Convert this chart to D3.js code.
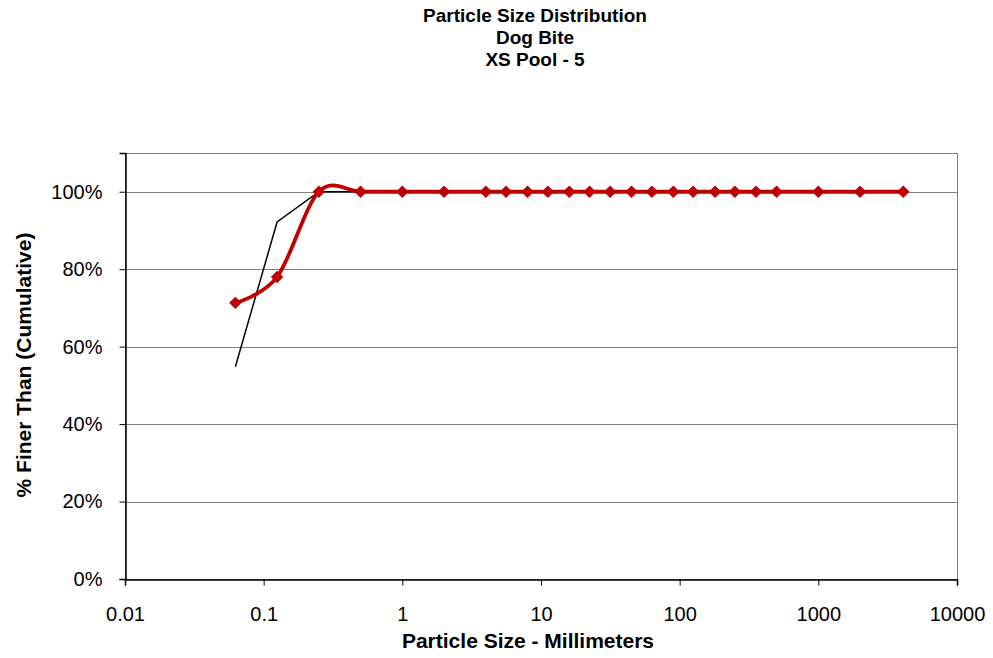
<!DOCTYPE html>
<html>
<head>
<meta charset="utf-8">
<script src="https://cdn.jsdelivr.net/npm/d3@7"></script>
<style>
  html, body { margin: 0; padding: 0; background: #fff; }
  svg { display: block; font-family: "Liberation Sans", Arial, sans-serif; }
</style>
</head>
<body>
<svg id="chart" width="993" height="658"></svg>
<script>
// Sieve sizes (mm) and cumulative percent finer
const sizes = [0.0625, 0.125, 0.25, 0.5, 1, 2, 4, 5.6, 8, 11.2, 16, 22.4, 31.5, 45, 63, 90, 125, 180, 250, 355, 500, 1000, 2000, 4096];
const finerSmooth = [0.713, 0.78, 1, 1, 1, 1, 1, 1, 1, 1, 1, 1, 1, 1, 1, 1, 1, 1, 1, 1, 1, 1, 1, 1];
const finerLine = [0.548, 0.922, 1, 1, 1, 1, 1, 1, 1, 1, 1, 1, 1, 1, 1, 1, 1, 1, 1, 1, 1, 1, 1, 1];
const xTicks = [0.01, 0.1, 1, 10, 100, 1000, 10000];
const yTicks = [0, 0.2, 0.4, 0.6, 0.8, 1.0];
const titleLines = ["Particle Size Distribution", "Dog Bite", "XS Pool - 5"];

const svg = d3.select("#chart");
const plotL = 125, plotR = 957, plotT = 153, plotB = 579;

const x = d3.scaleLog().domain([0.01, 10000]).range([plotL, plotR]);
const y = d3.scaleLinear().domain([0, 1.1]).range([plotB, plotT]);

// Horizontal gridlines
svg.append("g").selectAll("line").data(yTicks.filter(d => d > 0)).join("line")
  .attr("x1", plotL).attr("x2", plotR)
  .attr("y1", d => Math.round(y(d)) + 0.5).attr("y2", d => Math.round(y(d)) + 0.5)
  .attr("stroke", "#808080").attr("stroke-width", 1);

// Plot frame
svg.append("rect")
  .attr("x", plotL + 0.5).attr("y", plotT + 0.5)
  .attr("width", plotR - plotL).attr("height", plotB - plotT)
  .attr("fill", "none").attr("stroke", "#808080");

// Axes
const xAxis = svg.append("g")
  .attr("transform", `translate(0,${plotB + 0.5})`)
  .call(d3.axisBottom(x).tickValues(xTicks).tickFormat(d => String(d)).tickSizeOuter(0).tickSize(6).tickPadding(21));
const yAxis = svg.append("g")
  .attr("transform", `translate(${plotL + 0.5},0)`)
  .call(d3.axisLeft(y).tickValues(yTicks).tickFormat(d3.format(".0%")).tickSizeOuter(0).tickSize(6).tickPadding(17));

[xAxis, yAxis].forEach(a => {
  a.select(".domain").attr("stroke", "#000").attr("stroke-width", 1.5);
  a.selectAll(".tick line").attr("stroke", "#000");
  a.selectAll(".tick text").attr("font-size", 20).attr("fill", "#000")
    .attr("font-family", "'Liberation Sans', Arial, sans-serif");
});

// Straight-segment series
const straight = d3.line().x((d, i) => x(sizes[i])).y(d => y(d));
svg.append("path").datum(finerLine)
  .attr("d", straight)
  .attr("fill", "none").attr("stroke", "#000").attr("stroke-width", 1.5);

// Smoothed series with diamond markers
const smooth = d3.line().x((d, i) => x(sizes[i])).y(d => y(d)).curve(d3.curveCatmullRom.alpha(0));
svg.append("path").datum(finerSmooth)
  .attr("d", smooth)
  .attr("fill", "none").attr("stroke", "#C00000").attr("stroke-width", 3.8);

svg.append("g").selectAll("path").data(finerSmooth).join("path")
  .attr("transform", (d, i) => `translate(${x(sizes[i])},${y(d)}) rotate(45)`)
  .attr("d", d3.symbol().type(d3.symbolSquare).size(78))
  .attr("fill", "#C00000");

// Titles
svg.append("g").selectAll("text").data(titleLines).join("text")
  .attr("x", 535).attr("y", (d, i) => 22 + i * 22)
  .attr("text-anchor", "middle")
  .attr("font-size", 19).attr("font-weight", "bold").attr("fill", "#000")
  .text(d => d);

svg.append("text")
  .attr("x", 528).attr("y", 648)
  .attr("text-anchor", "middle")
  .attr("font-size", 21).attr("font-weight", "bold")
  .text("Particle Size - Millimeters");

svg.append("text")
  .attr("transform", `translate(31,365) rotate(-90)`)
  .attr("text-anchor", "middle")
  .attr("font-size", 21).attr("font-weight", "bold")
  .text("% Finer Than (Cumulative)");
</script>
</body>
</html>
